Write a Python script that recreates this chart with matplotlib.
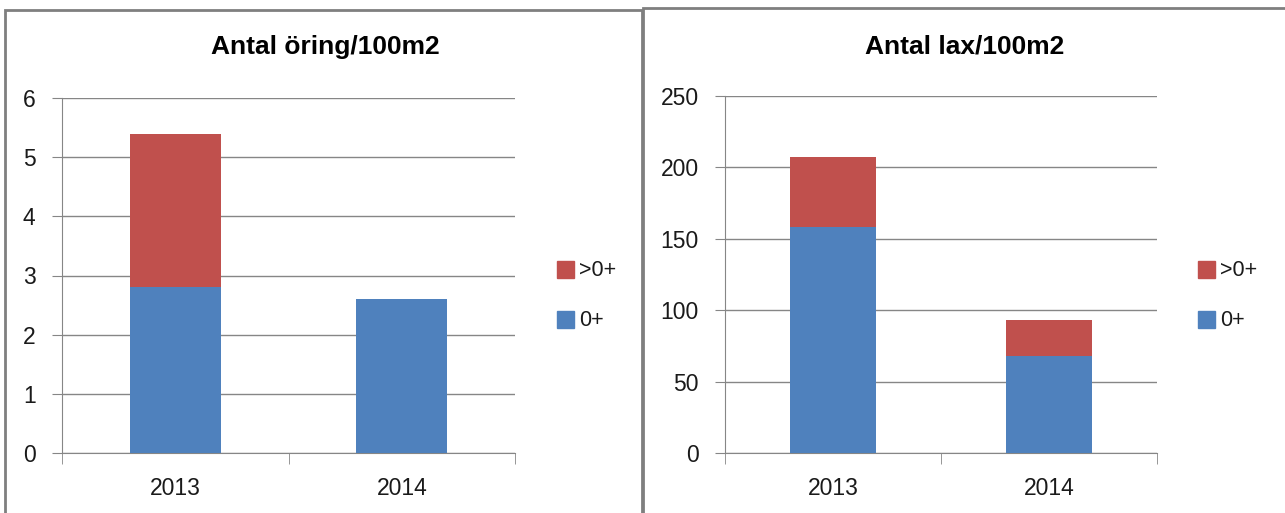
import numpy as np
import matplotlib.pyplot as plt
from matplotlib.patches import Rectangle

plt.rcParams['font.family'] = ['Liberation Sans', 'DejaVu Sans']

years = ['2013', '2014']
oring_0 = [2.8, 2.6]
oring_over = [2.6, 0.0]
lax_0 = [158, 68]
lax_over = [49, 25]

blue = '#4F81BD'
red = '#C0504D'
grid_c = '#868686'

W, H = 1285, 513
fig = plt.figure(figsize=(W / 100, H / 100), dpi=100)


def px_axes(x0, y0, x1, y1):
    # pixel box (top-left origin) -> figure fraction
    return fig.add_axes([x0 / W, 1 - y1 / H, (x1 - x0) / W, (y1 - y0) / H])


def draw(ax, v0, v1, ymax, step, title, title_x, legend_x):
    x = np.arange(len(years))
    ax.bar(x, v0, width=0.4, color=blue, zorder=3)
    ax.bar(x, v1, width=0.4, bottom=v0, color=red, zorder=3)
    ax.set_xlim(-0.5, len(years) - 0.5)
    ax.set_ylim(0, ymax)
    ax.set_yticks(np.arange(0, ymax + step, step))
    ax.yaxis.grid(True, color=grid_c, linewidth=1, zorder=0)
    for s in ['top', 'right']:
        ax.spines[s].set_visible(False)
    for s in ['left', 'bottom']:
        ax.spines[s].set_color(grid_c)
    ax.set_xticks(x)
    ax.set_xticklabels(years)
    ax.set_xticks([-0.5, 0.5, 1.5], minor=True)
    ax.tick_params(axis='x', which='major', length=0, pad=17, labelsize=16.5)
    ax.tick_params(axis='x', which='minor', length=8, color=grid_c, direction='out')
    ax.tick_params(axis='y', length=7, color=grid_c, pad=12, labelsize=16.5)
    for lbl in ax.get_xticklabels() + ax.get_yticklabels():
        lbl.set_color('#1a1a1a')
    fig.text(title_x / W, 1 - 47 / H, title, ha='center', va='center',
             fontsize=19, fontweight='bold')
    # legend
    fig.patches.append(Rectangle(((legend_x) / W, 1 - 278 / H), 17 / W, 17 / H,
                                 transform=fig.transFigure, color=red))
    fig.patches.append(Rectangle(((legend_x) / W, 1 - 328 / H), 17 / W, 17 / H,
                                 transform=fig.transFigure, color=blue))
    fig.text((legend_x + 22) / W, 1 - 270 / H, '>0+', va='center', fontsize=15.5,
             color='#1a1a1a')
    fig.text((legend_x + 22) / W, 1 - 320 / H, '0+', va='center', fontsize=15.5,
             color='#1a1a1a')


# chart borders
fig.patches.append(Rectangle((5 / W, -0.05), 637 / W, 1 - 10 / H + 0.05,
                             transform=fig.transFigure, fill=False,
                             edgecolor='#7f7f7f', linewidth=2))
fig.patches.append(Rectangle((643 / W, -0.05), 650 / W, 1 - 8 / H + 0.05,
                             transform=fig.transFigure, fill=False,
                             edgecolor='#7f7f7f', linewidth=2))

ax1 = px_axes(62, 98, 515, 453)
draw(ax1, oring_0, oring_over, 6, 1, 'Antal öring/100m2', 325, 557)

ax2 = px_axes(725, 96, 1157, 453)
draw(ax2, lax_0, lax_over, 250, 50, 'Antal lax/100m2', 965, 1198)

fig.savefig('out.png', dpi=100)
